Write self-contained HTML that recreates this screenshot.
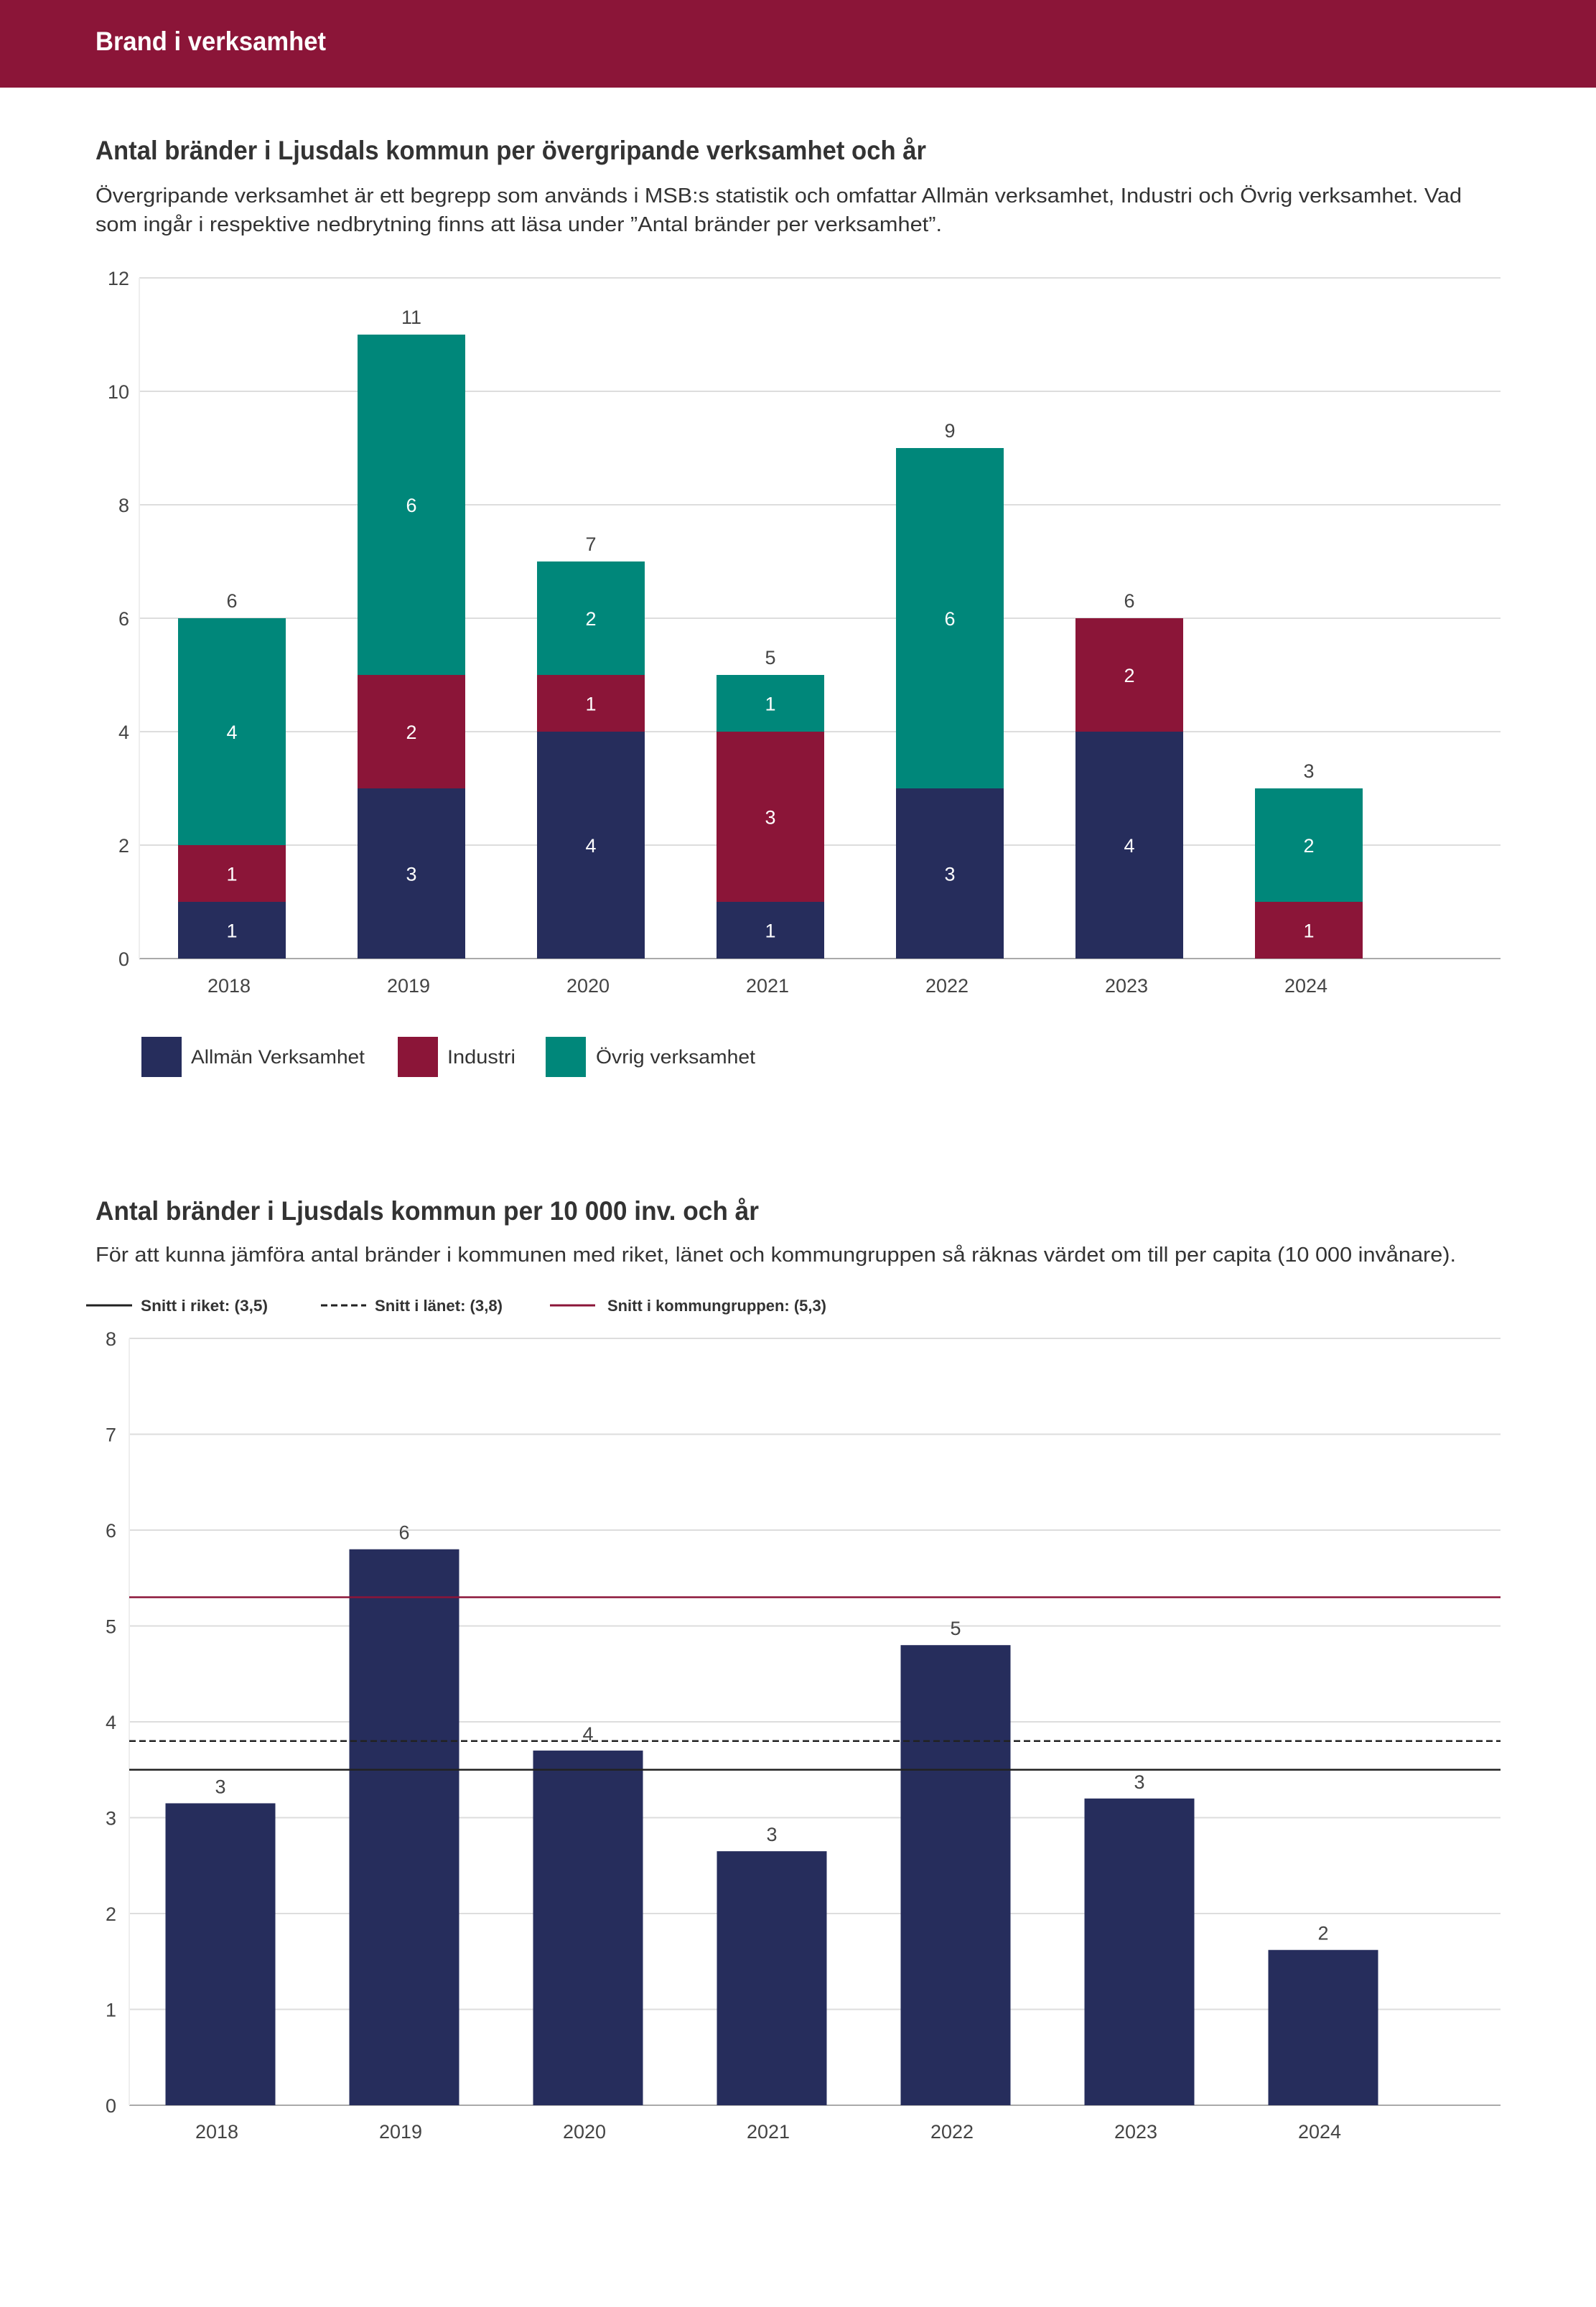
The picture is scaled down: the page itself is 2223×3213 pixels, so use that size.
<!DOCTYPE html>
<html><head><meta charset="utf-8"><style>
html,body{margin:0;padding:0;background:#fff;}
svg{display:block;font-family:"Liberation Sans",sans-serif;}
</style></head><body>
<svg id="page" width="2223" height="3213" viewBox="0 0 2223 3213" xmlns="http://www.w3.org/2000/svg">
<rect x="0" y="0" width="2223" height="122" fill="#8b1538"/>
<text x="133" y="70" font-size="37" font-weight="bold" fill="#fff" textLength="321" lengthAdjust="spacingAndGlyphs">Brand i verksamhet</text>

<text x="133" y="222" font-size="37" font-weight="bold" fill="#333" textLength="1157" lengthAdjust="spacingAndGlyphs">Antal bränder i Ljusdals kommun per övergripande verksamhet och år</text>
<text x="133" y="282" font-size="29" fill="#333" textLength="1903" lengthAdjust="spacingAndGlyphs">Övergripande verksamhet är ett begrepp som används i MSB:s statistik och omfattar Allmän verksamhet, Industri och Övrig verksamhet. Vad</text>
<text x="133" y="322" font-size="29" fill="#333" textLength="1179" lengthAdjust="spacingAndGlyphs">som ingår i respektive nedbrytning finns att läsa under ”Antal bränder per verksamhet”.</text>
<g id="chart1"></g>

<g>
<rect x="197" y="1444" width="56" height="56" fill="#262d5c"/>
<text x="266" y="1481" font-size="27" fill="#333" textLength="242" lengthAdjust="spacingAndGlyphs">Allmän Verksamhet</text>
<rect x="554" y="1444" width="56" height="56" fill="#8b1538"/>
<text x="623" y="1481" font-size="27" fill="#333" textLength="95" lengthAdjust="spacingAndGlyphs">Industri</text>
<rect x="760" y="1444" width="56" height="56" fill="#00877a"/>
<text x="830" y="1481" font-size="27" fill="#333" textLength="222" lengthAdjust="spacingAndGlyphs">Övrig verksamhet</text>
</g>

<text x="133" y="1699" font-size="37" font-weight="bold" fill="#333" textLength="924" lengthAdjust="spacingAndGlyphs">Antal bränder i Ljusdals kommun per 10 000 inv. och år</text>
<text x="133" y="1757" font-size="29" fill="#333" textLength="1895" lengthAdjust="spacingAndGlyphs">För att kunna jämföra antal bränder i kommunen med riket, länet och kommungruppen så räknas värdet om till per capita (10 000 invånare).</text>
<g>
<line x1="120" y1="1818" x2="184" y2="1818" stroke="#222" stroke-width="3"/>
<text x="196" y="1826" font-size="22" font-weight="bold" fill="#333" textLength="177" lengthAdjust="spacingAndGlyphs">Snitt i riket: (3,5)</text>
<line x1="447" y1="1818" x2="510" y2="1818" stroke="#222" stroke-width="3" stroke-dasharray="9,5"/>
<text x="522" y="1826" font-size="22" font-weight="bold" fill="#333" textLength="178" lengthAdjust="spacingAndGlyphs">Snitt i länet: (3,8)</text>
<line x1="766" y1="1818" x2="829" y2="1818" stroke="#8b1538" stroke-width="3"/>
<text x="846" y="1826" font-size="22" font-weight="bold" fill="#333" textLength="305" lengthAdjust="spacingAndGlyphs">Snitt i kommungruppen: (5,3)</text>
</g>
<g id="chart2"></g>
</svg>
<script>
const years = ["2018","2019","2020","2021","2022","2023","2024"];
const allman = [1,3,4,1,3,4,0];
const industri = [1,2,1,3,0,2,1];
const ovrig = [4,6,2,1,6,0,2];
const ticks1 = [0,2,4,6,8,10,12];
const perCapita = [3.15,5.8,3.7,2.65,4.8,3.2,1.62];
const perCapitaLabels = ["3","6","4","3","5","3","2"];
const ticks2 = [0,1,2,3,4,5,6,7,8];
const avgRiket = 3.5;
const avgLanet = 3.8;
const avgKommungrupp = 5.3;

const NS="http://www.w3.org/2000/svg";
function mk(parent,tag,attrs,txt){const e=document.createElementNS(NS,tag);for(const k in attrs)e.setAttribute(k,attrs[k]);if(txt!==undefined)e.textContent=txt;parent.appendChild(e);return e;}

// Chart 1
(function(){
  const g=document.getElementById('chart1');
  const L=194,R=2090,y0=1335,yTop=387,maxV=12;
  const y=v=>y0-(y0-yTop)*v/maxV;
  const band=250,bw=150;
  const cx=i=>L+129+band*i;
  ticks1.forEach(t=>{
    const ln=mk(g,'line',{x1:L,x2:R,y1:y(t),y2:y(t),stroke:t===0?'#aaa':'#ddd','stroke-width':2});
    
    
    const tx=mk(g,'text',{x:180,y:y(t)+10,'font-size':27,fill:'#444','text-anchor':'end'},String(t));
    
    
  });
  const ax=mk(g,'line',{x1:L,x2:L,y1:yTop,y2:y0,stroke:'#eee','stroke-width':2});
  
  
  const series=[[allman,'#262d5c','allman'],[industri,'#8b1538','industri'],[ovrig,'#00877a','ovrig']];
  years.forEach((yr,i)=>{
    let acc=0;
    series.forEach(([arr,col,nm])=>{
      const v=arr[i]; if(!v) return;
      const r=mk(g,'rect',{x:cx(i)-bw/2,y:y(acc+v),width:bw,height:y(acc)-y(acc+v),fill:col});
      
      
      const t=mk(g,'text',{x:cx(i),y:(y(acc)+y(acc+v))/2+10,'font-size':27,fill:'#fff','text-anchor':'middle'},String(v));
      
      
      acc+=v;
    });
    const tt=mk(g,'text',{x:cx(i),y:y(acc)-15,'font-size':27,fill:'#444','text-anchor':'middle'},String(acc));
    
    
    const xl=mk(g,'text',{x:cx(i)-4,y:1382,'font-size':27,fill:'#444','text-anchor':'middle'},yr);
    
    
  });
})();

// Chart 2
(function(){
  const g=document.getElementById('chart2');
  const L=180,R=2090,y0=2932,yTop=1864,maxV=8;
  const y=v=>y0-(y0-yTop)*v/maxV;
  const band=256,bw=153;
  const cx=i=>307+band*i;
  ticks2.forEach(t=>{
    const ln=mk(g,'line',{x1:L,x2:R,y1:y(t),y2:y(t),stroke:t===0?'#aaa':'#ddd','stroke-width':2});
    
    
    const tx=mk(g,'text',{x:162,y:y(t)+10,'font-size':27,fill:'#444','text-anchor':'end'},String(t));
    
    
  });
  const ax=mk(g,'line',{x1:L,x2:L,y1:yTop,y2:y0,stroke:'#eee','stroke-width':2});
  
  
  years.forEach((yr,i)=>{
    const v=perCapita[i];
    const r=mk(g,'rect',{x:cx(i)-bw/2,y:y(v),width:bw,height:y0-y(v),fill:'#262d5c'});
    
    
    const t=mk(g,'text',{x:cx(i),y:y(v)-14,'font-size':27,fill:'#444','text-anchor':'middle'},perCapitaLabels[i]);
    
    
    const xl=mk(g,'text',{x:cx(i)-5,y:2978,'font-size':27,fill:'#444','text-anchor':'middle'},yr);
    
    
  });
  const l1=mk(g,'line',{x1:L,x2:R,y1:y(avgKommungrupp),y2:y(avgKommungrupp),stroke:'#8b1538','stroke-width':2.5});
  
  
  const l2=mk(g,'line',{x1:L,x2:R,y1:y(avgLanet),y2:y(avgLanet),stroke:'#222','stroke-width':2.5,'stroke-dasharray':'9,5'});
  
  
  const l3=mk(g,'line',{x1:L,x2:R,y1:y(avgRiket),y2:y(avgRiket),stroke:'#222','stroke-width':2.5});
  
  
})();
</script>
</body></html>
